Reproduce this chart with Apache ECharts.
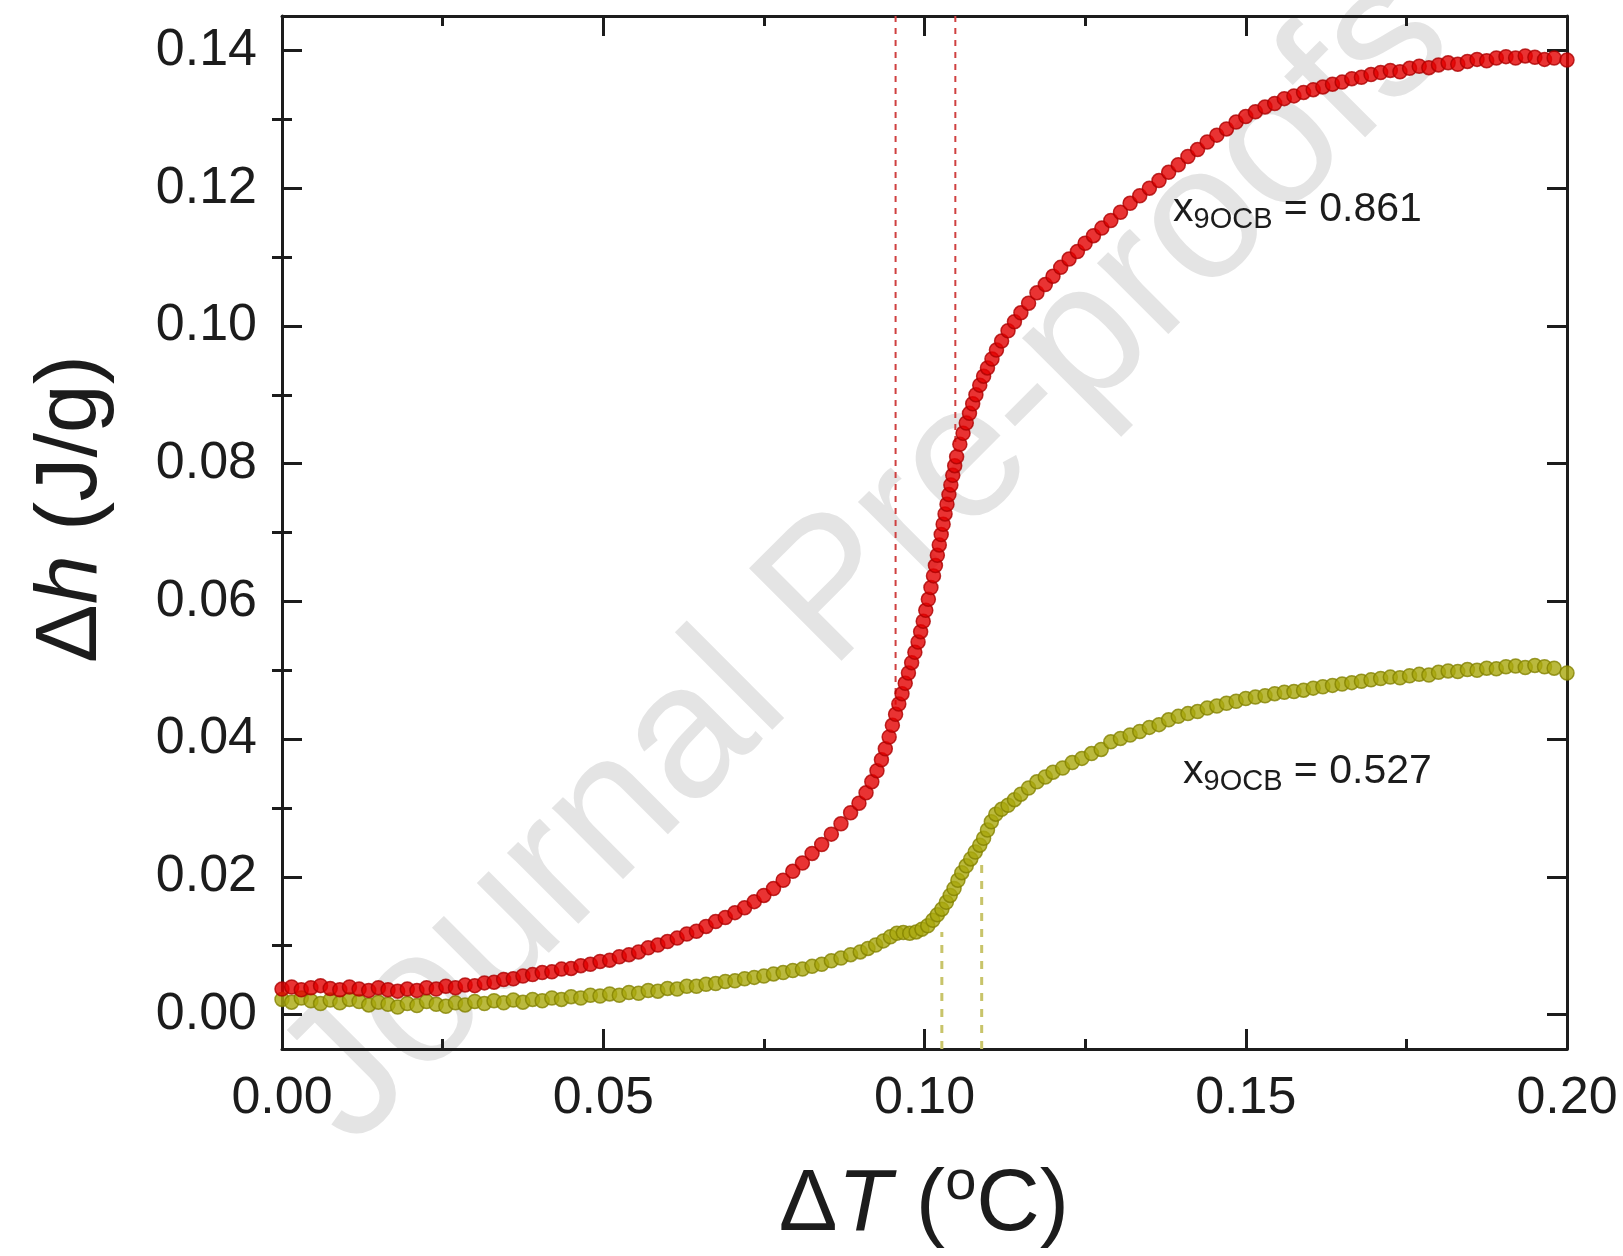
<!DOCTYPE html>
<html>
<head>
<meta charset="utf-8">
<script src="https://cdn.jsdelivr.net/npm/echarts@6/dist/echarts.min.js"></script>
<style>
  html, body { margin: 0; padding: 0; background: #ffffff; }
  #chart { width: 1623px; height: 1256px; }
</style>
</head>
<body>
<div id="chart"></div>
<script>
// Axis ticks
const xTicks = [0, 0.05, 0.10, 0.15, 0.20];
const yTicks = [0, 0.02, 0.04, 0.06, 0.08, 0.10, 0.12, 0.14];
const yMinorTicks = [0.01, 0.03, 0.05, 0.07, 0.09, 0.11, 0.13];

// Enthalpy change Δh (J/g) versus ΔT (°C), x9OCB = 0.861
const dh861 = [
  [0.0000,0.0037],[0.0015,0.0040],[0.0030,0.0036],[0.0045,0.0039],[0.0060,0.0042],[0.0075,0.0038],
  [0.0090,0.0036],[0.0105,0.0040],[0.0120,0.0037],[0.0135,0.0035],[0.0150,0.0039],[0.0165,0.0036],
  [0.0180,0.0034],[0.0195,0.0037],[0.0210,0.0035],[0.0225,0.0039],[0.0240,0.0037],[0.0255,0.0041],
  [0.0270,0.0039],[0.0285,0.0043],[0.0300,0.0042],[0.0315,0.0046],[0.0330,0.0047],[0.0345,0.0051],
  [0.0360,0.0052],[0.0375,0.0056],[0.0390,0.0058],[0.0405,0.0061],[0.0420,0.0062],[0.0435,0.0066],
  [0.0450,0.0067],[0.0465,0.0071],[0.0480,0.0073],[0.0495,0.0077],[0.0510,0.0079],[0.0525,0.0084],
  [0.0540,0.0087],[0.0555,0.0091],[0.0570,0.0097],[0.0585,0.0101],[0.0600,0.0106],[0.0615,0.0111],
  [0.0630,0.0117],[0.0645,0.0121],[0.0660,0.0128],[0.0675,0.0135],[0.0690,0.0141],[0.0705,0.0148],
  [0.0720,0.0155],[0.0735,0.0164],[0.0750,0.0173],[0.0765,0.0183],[0.0780,0.0195],[0.0795,0.0208],
  [0.0810,0.0220],[0.0825,0.0234],[0.0840,0.0247],[0.0855,0.0262],[0.0870,0.0277],[0.0885,0.0293],
  [0.0898,0.0307],[0.0909,0.0322],[0.0918,0.0338],[0.0926,0.0354],[0.0933,0.0370],[0.0939,0.0386],
  [0.0945,0.0403],[0.0950,0.0420],[0.0955,0.0436],[0.0960,0.0451],[0.0965,0.0466],[0.0970,0.0481],
  [0.0975,0.0496],[0.0980,0.0511],[0.0985,0.0526],[0.0990,0.0541],[0.0994,0.0556],[0.0998,0.0571],
  [0.1002,0.0587],[0.1006,0.0603],[0.1010,0.0620],[0.1014,0.0637],[0.1017,0.0652],[0.1020,0.0667],
  [0.1023,0.0682],[0.1026,0.0697],[0.1029,0.0712],[0.1032,0.0727],[0.1035,0.0741],[0.1038,0.0755],
  [0.1041,0.0769],[0.1044,0.0783],[0.1047,0.0797],[0.1050,0.0810],[0.1055,0.0828],[0.1060,0.0844],
  [0.1065,0.0859],[0.1070,0.0873],[0.1075,0.0887],[0.1080,0.0900],[0.1086,0.0914],[0.1092,0.0927],
  [0.1098,0.0939],[0.1105,0.0952],[0.1112,0.0965],[0.1120,0.0978],[0.1130,0.0993],[0.1140,0.1006],
  [0.1150,0.1019],[0.1162,0.1033],[0.1175,0.1048],[0.1188,0.1060],[0.1200,0.1072],[0.1212,0.1085],
  [0.1225,0.1097],[0.1238,0.1108],[0.1250,0.1120],[0.1263,0.1131],[0.1276,0.1142],[0.1290,0.1153],
  [0.1305,0.1165],[0.1320,0.1178],[0.1335,0.1189],[0.1350,0.1200],[0.1365,0.1211],[0.1380,0.1223],
  [0.1395,0.1234],[0.1410,0.1246],[0.1425,0.1256],[0.1440,0.1267],[0.1455,0.1277],[0.1470,0.1286],
  [0.1485,0.1296],[0.1500,0.1304],[0.1515,0.1311],[0.1530,0.1318],[0.1545,0.1323],[0.1560,0.1330],
  [0.1575,0.1334],[0.1590,0.1339],[0.1605,0.1343],[0.1620,0.1347],[0.1635,0.1351],[0.1650,0.1354],
  [0.1665,0.1359],[0.1680,0.1361],[0.1695,0.1365],[0.1710,0.1368],[0.1725,0.1371],[0.1740,0.1369],
  [0.1755,0.1374],[0.1770,0.1377],[0.1785,0.1375],[0.1800,0.1379],[0.1815,0.1382],[0.1830,0.1380],
  [0.1845,0.1384],[0.1860,0.1387],[0.1875,0.1385],[0.1890,0.1389],[0.1905,0.1391],[0.1920,0.1389],
  [0.1935,0.1392],[0.1950,0.1390],[0.1965,0.1387],[0.1980,0.1389],[0.2000,0.1386]
];

// Enthalpy change Δh (J/g) versus ΔT (°C), x9OCB = 0.527
const dh527 = [
  [0.0000,0.0022],[0.0015,0.0018],[0.0030,0.0024],[0.0045,0.0020],[0.0060,0.0016],[0.0075,0.0021],
  [0.0090,0.0017],[0.0105,0.0022],[0.0120,0.0019],[0.0135,0.0014],[0.0150,0.0018],[0.0165,0.0015],
  [0.0180,0.0011],[0.0195,0.0016],[0.0210,0.0013],[0.0225,0.0019],[0.0240,0.0015],[0.0255,0.0012],
  [0.0270,0.0017],[0.0285,0.0014],[0.0300,0.0019],[0.0315,0.0016],[0.0330,0.0020],[0.0345,0.0017],
  [0.0360,0.0021],[0.0375,0.0018],[0.0390,0.0022],[0.0405,0.0020],[0.0420,0.0024],[0.0435,0.0022],
  [0.0450,0.0026],[0.0465,0.0024],[0.0480,0.0028],[0.0495,0.0027],[0.0510,0.0030],[0.0525,0.0028],
  [0.0540,0.0032],[0.0555,0.0031],[0.0570,0.0035],[0.0585,0.0034],[0.0600,0.0038],[0.0615,0.0037],
  [0.0630,0.0041],[0.0645,0.0041],[0.0660,0.0044],[0.0675,0.0045],[0.0690,0.0048],[0.0705,0.0049],
  [0.0720,0.0052],[0.0735,0.0054],[0.0750,0.0056],[0.0765,0.0059],[0.0780,0.0061],[0.0795,0.0064],
  [0.0810,0.0066],[0.0825,0.0070],[0.0840,0.0073],[0.0855,0.0078],[0.0870,0.0082],[0.0885,0.0087],
  [0.0900,0.0091],[0.0912,0.0096],[0.0924,0.0101],[0.0936,0.0107],[0.0947,0.0113],[0.0957,0.0118],
  [0.0967,0.0119],[0.0977,0.0118],[0.0987,0.0120],[0.0996,0.0124],[0.1005,0.0129],[0.1013,0.0137],
  [0.1020,0.0145],[0.1027,0.0153],[0.1034,0.0163],[0.1040,0.0173],[0.1046,0.0183],[0.1052,0.0195],
  [0.1058,0.0206],[0.1065,0.0216],[0.1072,0.0226],[0.1079,0.0236],[0.1086,0.0246],[0.1092,0.0256],
  [0.1098,0.0268],[0.1104,0.0280],[0.1111,0.0291],[0.1120,0.0298],[0.1130,0.0304],[0.1140,0.0312],
  [0.1150,0.0320],[0.1162,0.0329],[0.1175,0.0338],[0.1188,0.0345],[0.1200,0.0352],[0.1215,0.0358],
  [0.1230,0.0366],[0.1245,0.0372],[0.1260,0.0379],[0.1275,0.0385],[0.1290,0.0396],[0.1305,0.0401],
  [0.1320,0.0406],[0.1335,0.0411],[0.1350,0.0417],[0.1365,0.0421],[0.1380,0.0428],[0.1395,0.0433],
  [0.1410,0.0437],[0.1425,0.0440],[0.1440,0.0445],[0.1455,0.0448],[0.1470,0.0452],[0.1485,0.0455],
  [0.1500,0.0459],[0.1515,0.0461],[0.1530,0.0463],[0.1545,0.0466],[0.1560,0.0468],[0.1575,0.0469],
  [0.1590,0.0471],[0.1605,0.0474],[0.1620,0.0476],[0.1635,0.0478],[0.1650,0.0480],[0.1665,0.0482],
  [0.1680,0.0484],[0.1695,0.0486],[0.1710,0.0488],[0.1725,0.0490],[0.1740,0.0489],[0.1755,0.0492],
  [0.1770,0.0494],[0.1785,0.0493],[0.1800,0.0497],[0.1815,0.0499],[0.1830,0.0498],[0.1845,0.0501],
  [0.1860,0.0500],[0.1875,0.0503],[0.1890,0.0502],[0.1905,0.0505],[0.1920,0.0506],[0.1935,0.0504],
  [0.1950,0.0507],[0.1965,0.0505],[0.1980,0.0503],[0.2000,0.0496]
];

// Transition-onset guides: [ΔT, Δh where the guide ends]
const guides861 = [[0.0955, 0.045], [0.1048, 0.082]];
const guides527 = [[0.1027, 0.012], [0.1089, 0.022]];

const Y_MIN = -0.005, Y_MAX = 0.145;
const FONT = '"Liberation Sans", Arial, Helvetica, sans-serif';
const INK = '#1c1c1c';

const chart = echarts.init(document.getElementById('chart'), null, { renderer: 'canvas' });

const frameLine = { show: true, onZero: false, lineStyle: { color: INK, width: 3 } };
const noSplit = { show: false };

function yAxisDef(position, ticks, len, withLine, withLabels) {
  return {
    type: 'value', position, min: Y_MIN, max: Y_MAX,
    axisLine: withLine ? frameLine : { show: false },
    axisTick: { show: true, inside: true, length: len, customValues: ticks,
                lineStyle: { color: INK, width: 3 } },
    axisLabel: withLabels ? {
      show: true, customValues: ticks, fontSize: 52, fontFamily: FONT, color: INK, margin: 25,
      formatter: v => v.toFixed(2)
    } : { show: false },
    splitLine: noSplit
  };
}

function xAxisDef(position, withLabels) {
  return {
    type: 'value', position, min: 0, max: 0.2, interval: 0.05,
    axisLine: frameLine,
    axisTick: { show: true, inside: true, length: 20, lineStyle: { color: INK, width: 3 } },
    minorTick: { show: true, splitNumber: 2, length: 10, lineStyle: { color: INK, width: 3 } },
    axisLabel: withLabels ? {
      show: true, fontSize: 52, fontFamily: FONT, color: INK, margin: 24,
      formatter: v => (xTicks.some(t => Math.abs(t - v) < 1e-9) ? v.toFixed(2) : '')
    } : { show: false },
    splitLine: noSplit, minorSplitLine: noSplit
  };
}

function guideSeries(guides, color, width, dash, fromTop) {
  return guides.map(g => ({
    type: 'line', xAxisIndex: 0, yAxisIndex: 0, symbol: 'none', silent: true, z: 1,
    lineStyle: { color, width, type: dash },
    data: [[g[0], fromTop ? Y_MAX : Y_MIN], [g[0], g[1]]]
  }));
}

function dotSeries(data, fill, edge) {
  return {
    type: 'scatter', xAxisIndex: 0, yAxisIndex: 0, data, symbol: 'circle', symbolSize: 14,
    itemStyle: { color: fill, borderColor: edge, borderWidth: 1.5 }, z: 3, clip: true
  };
}

const sub = { fontSize: 29, fontFamily: FONT, fill: INK, verticalAlign: 'bottom', lineHeight: 30 };
const main = { fontSize: 41, fontFamily: FONT, fill: INK, lineHeight: 48 };

function annotation(x, y, value) {
  return {
    type: 'text', x, y, z: 10,
    style: {
      text: '{m|x}{s|9OCB}{m| = ' + value + '}',
      rich: { m: main, s: sub },
      align: 'left', verticalAlign: 'middle', textAlign: 'left', textVerticalAlign: 'middle'
    }
  };
}

const option = {
  animation: false,
  backgroundColor: '#ffffff',
  grid: { left: 282, right: 56, top: 16, bottom: 207, containLabel: false },
  xAxis: [xAxisDef('bottom', true), xAxisDef('top', false)],
  yAxis: [
    yAxisDef('left', yTicks, 20, true, true),
    yAxisDef('left', yMinorTicks, 10, false, false),
    yAxisDef('right', yTicks, 20, true, false),
    yAxisDef('right', yMinorTicks, 10, false, false)
  ],
  series: [
    ...guideSeries(guides861, '#cf4040', 2, [6, 6], true),
    ...guideSeries(guides527, '#c8c46a', 3, [8, 8], false),
    dotSeries(dh527, '#a9a80c', '#838200'),
    dotSeries(dh861, '#e30000', '#ad0000')
  ],
  graphic: [
    {
      type: 'text', x: 868, y: 560, rotation: 0.785, z: -10, silent: true,
      style: {
        text: 'Journal Pre-proofs', fontSize: 190, fontFamily: FONT, fill: '#e4e4e4',
        align: 'center', verticalAlign: 'middle', textAlign: 'center', textVerticalAlign: 'middle'
      }
    },
    annotation(1173, 210, '0.861'),
    annotation(1183, 772, '0.527'),
    {
      type: 'text', x: 72, y: 509, rotation: Math.PI / 2, z: 10,
      style: {
        text: '{n|Δ}{i|h}{n| (J/g)}',
        rich: {
          n: { fontSize: 88, fontFamily: FONT, fill: INK },
          i: { fontSize: 88, fontFamily: FONT, fill: INK, fontStyle: 'italic' }
        },
        align: 'center', verticalAlign: 'middle', textAlign: 'center', textVerticalAlign: 'middle'
      }
    },
    {
      type: 'text', x: 924, y: 1206, z: 10,
      style: {
        text: '{n|Δ}{i|T}{n| (}{s|o}{n|C)}',
        rich: {
          n: { fontSize: 88, fontFamily: FONT, fill: INK, lineHeight: 100 },
          i: { fontSize: 88, fontFamily: FONT, fill: INK, fontStyle: 'italic', lineHeight: 100 },
          s: { fontSize: 56, fontFamily: FONT, fill: INK, verticalAlign: 'top', lineHeight: 70 }
        },
        align: 'center', verticalAlign: 'middle', textAlign: 'center', textVerticalAlign: 'middle'
      }
    }
  ]
};

chart.setOption(option);
</script>
</body>
</html>
